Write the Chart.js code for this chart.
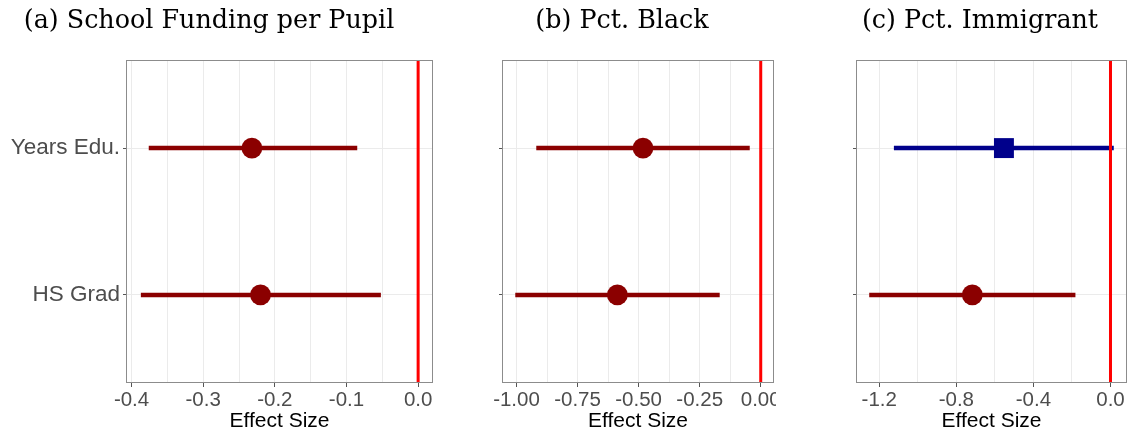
<!DOCTYPE html>
<html><head><meta charset="utf-8">
<script src="https://cdn.jsdelivr.net/npm/chart.js@4"></script>
<style>
html,body{margin:0;padding:0;background:#fff;width:1131px;height:435px;overflow:hidden}
.p{position:absolute;top:0;height:435px}
</style></head><body>
<div class="p" style="left:0;width:445px"><canvas id="ca"></canvas></div>
<div class="p" style="left:445px;width:331px"><canvas id="cb"></canvas></div>
<div class="p" style="left:776px;width:355px"><canvas id="cc"></canvas></div>
<script>
// ---- data ----
const categories = ['HS Grad', 'Years Edu.'];
const titles = ['(a) School Funding per Pupil', '(b) Pct. Black', '(c) Pct. Immigrant'];
const axisTitle = 'Effect Size';

const aEstimate = [-0.220, -0.232];
const aLower    = [-0.387, -0.376];
const aUpper    = [-0.052, -0.085];
const aTicks      = [-0.4, -0.3, -0.2, -0.1, 0.0];
const aTickLabels = ['-0.4', '-0.3', '-0.2', '-0.1', '0.0'];
const aMinor      = [-0.35, -0.25, -0.15, -0.05];

const bEstimate = [-0.587, -0.482];
const bLower    = [-1.005, -0.919];
const bUpper    = [-0.168, -0.045];
const bTicks      = [-1.0, -0.75, -0.5, -0.25, 0.0];
const bTickLabels = ['-1.00', '-0.75', '-0.50', '-0.25', '0.00'];
const bMinor      = [-0.875, -0.625, -0.375, -0.125];

const cEstimate = [-0.717, -0.553];
const cLower    = [-1.252, -1.124];
const cUpper    = [-0.182, 0.017];
const cTicks      = [-1.2, -0.8, -0.4, 0.0];
const cTickLabels = ['-1.2', '-0.8', '-0.4', '0.0'];
const cMinor      = [-1.0, -0.6, -0.2];

// ---- style ----
const DARK_RED = '#8b0000', DARK_BLUE = '#00008b', ZERO_RED = '#ff0000';
const GRID = '#ebebeb', TICK = '#555555', FRAME = '#8c8c8c', LABEL = '#4d4d4d';
const CLEAR = 'rgba(0,0,0,0)';
const Y_MIN = 0.4, Y_MAX = 2.6;
const SANS = "'Liberation Sans', Arial, sans-serif";

function expandRange(lower, upper) {
  const lo = Math.min(0, ...lower), hi = Math.max(0, ...upper);
  const d = (hi - lo) * 0.05;
  return [lo - d, hi + d];
}

const framePlugin = {
  id: 'frame',
  afterDraw(chart) {
    const {ctx, chartArea: a} = chart;
    ctx.save();
    ctx.strokeStyle = FRAME; ctx.lineWidth = 1;
    ctx.strokeRect(Math.round(a.left) - 0.5, Math.round(a.top) + 0.5,
                   Math.round(a.right - a.left) + 1, Math.round(a.bottom - a.top) - 1);
    ctx.restore();
  }
};
const panelTitlePlugin = {
  id: 'panelTitle',
  afterDraw(chart, args, opts) {
    const ctx = chart.ctx;
    ctx.save();
    ctx.font = opts.font;
    ctx.fillStyle = '#000';
    ctx.textAlign = 'center';
    ctx.textBaseline = 'alphabetic';
    ctx.fillText(opts.text, opts.x, opts.y);
    ctx.restore();
  }
};

function isIn(arr, v) { return arr.findIndex(m => Math.abs(m - v) < 1e-9); }

function makePanel(id, cfg) {
  const [xmin, xmax] = expandRange(cfg.lower, cfg.upper);
  const gridVals = [...cfg.ticks, ...cfg.minor].sort((p, q) => p - q);
  const allTicks = [xmin, ...gridVals, xmax];
  const datasets = [];
  datasets.push({data: [{x: 0, y: Y_MIN}, {x: 0, y: Y_MAX}], showLine: true,
    borderColor: ZERO_RED, borderWidth: 3, pointRadius: 0});
  categories.forEach((c, i) => {
    const sig = cfg.upper[i] < 0;
    const col = sig ? DARK_RED : DARK_BLUE;
    datasets.push({data: [{x: cfg.est[i], y: i + 1}], showLine: false,
      pointStyle: sig ? 'circle' : 'rect', pointRadius: sig ? 10.4 : 14.1,
      pointBackgroundColor: col, pointBorderColor: col, pointBorderWidth: 0});
  });
  categories.forEach((c, i) => {
    const sig = cfg.upper[i] < 0;
    const col = sig ? DARK_RED : DARK_BLUE;
    datasets.push({data: [{x: cfg.lower[i], y: i + 1}, {x: cfg.upper[i], y: i + 1}], showLine: true,
      borderColor: col, borderWidth: 4.5, pointRadius: 0, borderCapStyle: 'butt'});
  });
  new Chart(document.getElementById(id), {
    type: 'scatter',
    data: {datasets},
    plugins: [framePlugin, panelTitlePlugin],
    options: {
      responsive: true, maintainAspectRatio: false, animation: false,
      layout: {autoPadding: false, padding: {top: 60, right: cfg.rightPad, left: 0, bottom: 0}},
      plugins: {
        legend: {display: false}, tooltip: {enabled: false},
        panelTitle: {text: cfg.title, x: cfg.titleX, y: 28, font: "25.4px 'DejaVu Serif', serif"}
      },
      scales: {
        x: {
          type: 'linear', min: xmin, max: xmax,
          afterBuildTicks(s) { s.ticks = allTicks.map(v => ({value: v})); },
          afterFit(s) { s.height = 52; s.paddingLeft = 0; s.paddingRight = 0; },
          ticks: {autoSkip: false, maxRotation: 0, minRotation: 0, color: LABEL, padding: 1,
            font: {family: SANS, size: 20.5},
            callback(v) { const k = isIn(cfg.ticks, v); return k >= 0 ? cfg.labels[k] : ''; }},
          grid: {lineWidth: 1, tickLength: 4,
            color(ctx) { return ctx.tick && isIn(gridVals, ctx.tick.value) >= 0 ? GRID : CLEAR; },
            tickColor(ctx) { return ctx.tick && isIn(cfg.ticks, ctx.tick.value) >= 0 ? TICK : CLEAR; }},
          border: {display: false},
          title: {display: true, text: axisTitle, color: '#000', font: {family: SANS, size: 21},
            padding: {top: 0, bottom: 1}}
        },
        y: {
          type: 'linear', min: Y_MIN, max: Y_MAX,
          afterBuildTicks(s) { s.ticks = categories.map((c, i) => ({value: i + 1})); },
          afterFit(s) { s.width = cfg.leftW; s.paddingTop = 0; s.paddingBottom = 0; },
          ticks: {autoSkip: false, color: LABEL, padding: 3, font: {family: SANS, size: 22.5},
            callback(v, i) { return cfg.showY ? categories[i] : ''; }},
          grid: {color: GRID, lineWidth: 1, tickLength: 4, tickColor: TICK},
          border: {display: false}
        }
      }
    }
  });
}

makePanel('ca', {est: aEstimate, lower: aLower, upper: aUpper, ticks: aTicks, labels: aTickLabels,
  minor: aMinor, showY: true, leftW: 127, rightPad: 13, title: titles[0], titleX: 209});
makePanel('cb', {est: bEstimate, lower: bLower, upper: bUpper, ticks: bTicks, labels: bTickLabels,
  minor: bMinor, showY: false, leftW: 58, rightPad: 3, title: titles[1], titleX: 177});
makePanel('cc', {est: cEstimate, lower: cLower, upper: cUpper, ticks: cTicks, labels: cTickLabels,
  minor: cMinor, showY: false, leftW: 81, rightPad: 5, title: titles[2], titleX: 204});
</script>
</body></html>
